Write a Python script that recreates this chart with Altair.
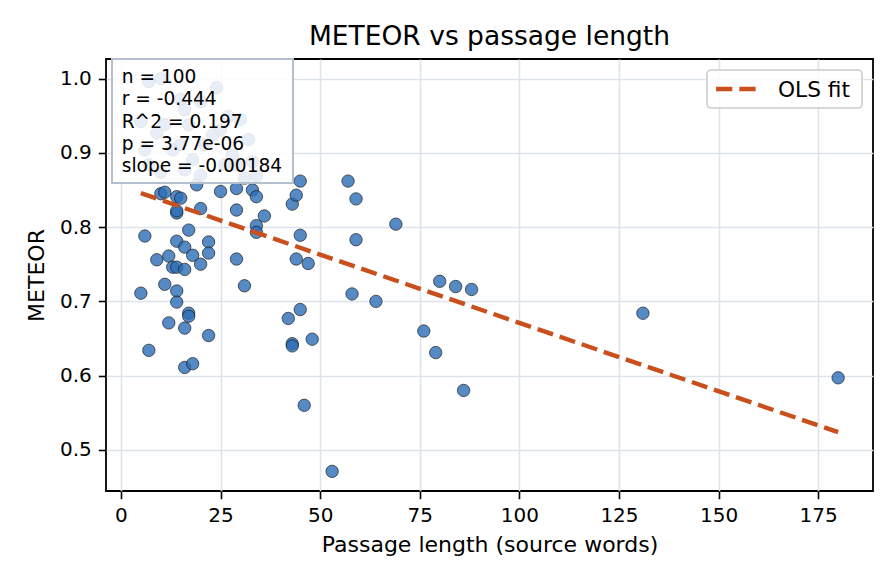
import altair as alt
import pandas as pd

# Source-passage length (words) and METEOR score for each of the 100 passages
passage_words = [
    10, 11, 14, 15, 14, 14, 20, 19, 25, 29,
    33, 34, 29, 36, 34, 34, 43, 44, 45, 57,
    59, 69, 45, 59, 6, 17, 14, 16, 22, 22,
    18, 9, 12, 20, 13, 14, 16, 29, 44, 47,
    31, 11, 14, 5, 14, 17, 17, 12, 16, 22,
    7, 16, 18, 58, 64, 45, 42, 48, 43, 43,
    46, 53, 80, 84, 88, 76, 79, 86, 131, 180,
    7, 10, 15, 20, 16, 27, 9, 11, 17, 15,
    13, 21, 28, 10, 29, 33, 31, 34, 23, 32,
    6, 7, 18, 25, 30, 5, 20, 26, 24, 16,
]
meteor_scores = [
    0.845, 0.847, 0.841, 0.839, 0.819, 0.822, 0.825, 0.857, 0.848, 0.852,
    0.850, 0.841, 0.823, 0.815, 0.802, 0.793, 0.831, 0.843, 0.862, 0.862,
    0.838, 0.804, 0.789, 0.783, 0.788, 0.796, 0.781, 0.773, 0.780, 0.765,
    0.762, 0.756, 0.761, 0.750, 0.746, 0.746, 0.743, 0.757, 0.757, 0.751,
    0.721, 0.723, 0.714, 0.711, 0.699, 0.684, 0.680, 0.671, 0.664, 0.654,
    0.634, 0.611, 0.616, 0.710, 0.700, 0.689, 0.677, 0.649, 0.643, 0.640,
    0.560, 0.471, 0.727, 0.720, 0.716, 0.660, 0.631, 0.580, 0.684, 0.597,
    0.996, 1.000, 0.972, 0.969, 0.958, 0.949, 0.927, 0.938, 0.938, 0.911,
    0.904, 0.911, 0.897, 0.874, 0.884, 0.888, 0.866, 0.869, 0.924, 0.918,
    0.904, 0.884, 0.891, 0.931, 0.945, 0.942, 0.870, 0.884, 0.988, 0.877,
]

# Regression summary
n_obs = 100
pearson_r = -0.444
r_squared = 0.197
p_value = "3.77e-06"
ols_slope = -0.00184
ols_intercept = 0.855

x_ticks = [0, 25, 50, 75, 100, 125, 150, 175]
y_ticks = [0.5, 0.6, 0.7, 0.8, 0.9, 1.0]

FONT = "DejaVu Sans"
W, H = 767, 432

df = pd.DataFrame({"words": passage_words, "meteor": meteor_scores})

# 5% margins around the data, like a default scatter
x_min, x_max = min(passage_words), max(passage_words)
y_min, y_max = min(meteor_scores), max(meteor_scores)
x_pad = 0.05 * (x_max - x_min)
y_pad = 0.05 * (y_max - y_min)
x_scale = alt.Scale(domain=[x_min - x_pad, x_max + x_pad], nice=False, zero=False)
y_scale = alt.Scale(domain=[y_min - y_pad, y_max + y_pad], nice=False, zero=False)

axis_common = dict(
    domain=False,
    grid=True,
    gridColor="#dde3ec",
    gridWidth=1.6,
    ticks=True,
    tickColor="black",
    tickWidth=1.6,
    tickSize=7.7,
    labelFont=FONT,
    labelFontSize=20,
    labelColor="black",
    titleFont=FONT,
    titleFontSize=22,
    titleFontWeight="normal",
    titleColor="black",
)

x_enc = alt.X(
    "words:Q",
    scale=x_scale,
    axis=alt.Axis(
        values=x_ticks,
        labelPadding=7,
        labelBaseline="top",
        title="Passage length (source words)",
        titleX=W / 2,
        titleY=60,
        titleAlign="center",
        titleBaseline="alphabetic",
        **axis_common,
    ),
)
y_enc = alt.Y(
    "meteor:Q",
    scale=y_scale,
    axis=alt.Axis(
        values=y_ticks,
        format=".1f",
        labelPadding=7,
        title="METEOR",
        titleX=-63,
        titleY=H / 2,
        titleAngle=-90,
        titleAlign="center",
        titleBaseline="alphabetic",
        **axis_common,
    ),
)

points = alt.Chart(df).mark_circle(
    size=154,
    fill="#2c6db6",
    fillOpacity=0.8,
    stroke="#111111",
    strokeOpacity=0.8,
    strokeWidth=0.8,
).encode(x=x_enc, y=y_enc)

# OLS fit drawn from the reported slope and intercept over the data range
fit_df = pd.DataFrame({
    "words": [x_min, x_max],
    "meteor": [ols_intercept + ols_slope * x_min, ols_intercept + ols_slope * x_max],
})
fit = alt.Chart(fit_df).mark_line(
    color="#c9501c", strokeWidth=4.4, strokeDash=[16.3, 7], strokeCap="butt"
).encode(x="words:Q", y="meteor:Q")

# Statistics box, upper left
stats_lines = "\n".join([
    f"n = {n_obs}",
    f"r = {pearson_r:.3f}",
    f"R^2 = {r_squared:.3f}",
    f"p = {p_value}",
    f"slope = {ols_slope:.5f}",
])
one = pd.DataFrame({"t": [stats_lines]})
stats_box = alt.Chart(one).mark_rect(
    fill="white", fillOpacity=0.86, stroke="#b4bfcd", strokeWidth=2
).encode(x=alt.value(6), x2=alt.value(187), y=alt.value(0), y2=alt.value(124))
stats_text = alt.Chart(one).mark_text(
    align="left", baseline="alphabetic", lineBreak="\n", lineHeight=22.3,
    font=FONT, fontSize=18.6, color="black",
).encode(x=alt.value(15.7), y=alt.value(24), text="t:N")

# Legend, upper right
legend_box = alt.Chart(one).mark_rect(
    fill="white", fillOpacity=0.8, stroke="#cccccc", strokeWidth=1.6, cornerRadius=4
).encode(x=alt.value(601), x2=alt.value(756), y=alt.value(11), y2=alt.value(49))
legend_line = alt.Chart(one).mark_rule(
    color="#c9501c", strokeWidth=4.4, strokeDash=[16.3, 7]
).encode(x=alt.value(610), x2=alt.value(654), y=alt.value(30))
legend_text = alt.Chart(pd.DataFrame({"t": ["OLS fit"]})).mark_text(
    align="left", baseline="alphabetic", font=FONT, fontSize=21.7, color="black"
).encode(x=alt.value(672), y=alt.value(38), text="t:N")

chart = alt.layer(
    points, fit, stats_box, stats_text, legend_box, legend_line, legend_text
).properties(
    width=W,
    height=H,
    title=alt.TitleParams(
        "METEOR vs passage length",
        font=FONT,
        fontSize=26.5,
        fontWeight="normal",
        color="black",
        anchor="middle",
        frame="group",
        baseline="alphabetic",
        offset=12,
        dy=25,
    ),
    autosize=alt.AutoSizeParams(type="none"),
    padding={"left": 106, "top": 59, "right": 23, "bottom": 93},
).configure(
    background="white"
).configure_view(
    stroke="black", strokeWidth=1.8
)

chart.save("out.html", embed_options={"renderer": "svg", "actions": False})
